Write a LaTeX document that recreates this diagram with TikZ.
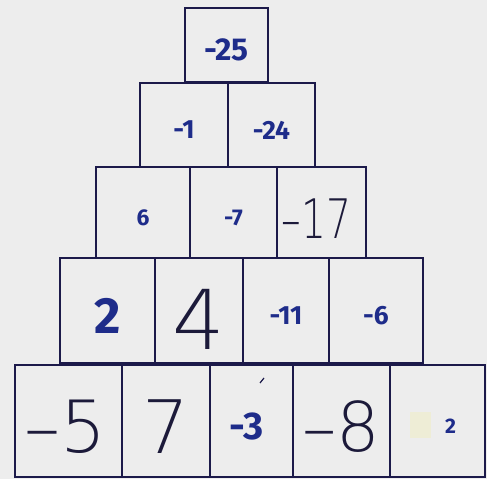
\documentclass[tikz,border=0pt]{standalone}
\usepackage{fontspec}
\usetikzlibrary{fit}
\newfontfamily\markerfont{Fira Sans}
\newfontfamily\penfont{DejaVu Sans ExtraLight}
\newfontfamily\pennarrow{DejaVu Sans ExtraLight}[FakeStretch=0.72]
\definecolor{inkline}{HTML}{1C1A4A}
\definecolor{markerblue}{HTML}{1E2C8A}
\definecolor{penink}{HTML}{1C1A3A}
\definecolor{paper}{HTML}{EDEDED}
\definecolor{tape}{HTML}{EEEDD6}
\tikzset{
  cell/.style={draw=inkline, line width=1.6pt, inner sep=0pt},
  marker/.style={text=markerblue, font=\markerfont\bfseries\fontsize{#1}{#1}\selectfont,
                 inner sep=0pt, yshift=-0.1cm},
  pen/.style={text=penink, font=\penfont\fontsize{#1}{#1}\selectfont,
              inner sep=0pt, yshift=-0.12cm},
  pentight/.style={pen, font=\pennarrow\fontsize{#1}{#1}\selectfont},
}

\begin{document}
\begin{tikzpicture}[x=0.02cm, y=-0.02cm]
    \fill[paper] (0,0) rectangle (487,479);
    \useasboundingbox (0,0) rectangle (487,479);
    % tape patch and stray tick
    \fill[tape] (410,412) rectangle (431,438);
    \draw[inkline, line width=0.7pt] (260,383) -- (264,378);
    % row 1
    \node[cell, fit={(185,8) (268,82)}, label={[marker=18]center:-25}] (c11) {};
    % row 2
    \node[cell, fit={(140,83) (228,167)}, label={[marker=15]center:-1}] (c21) {};
    \node[cell, fit={(228,83) (315,167)}, label={[marker=15]center:-24}] (c22) {};
    % row 3
    \node[cell, fit={(96,167) (190,258)}, label={[marker=13]center:6}] (c31) {};
    \node[cell, fit={(190,167) (277,258)}, label={[marker=13]center:-7}] (c32) {};
    \node[cell, fit={(277,167) (366,258)}, label={[pentight=31, xshift=-0.1cm]center:–\kern0pt 17}] (c33) {};
    % row 4
    \node[cell, fit={(60,258) (155,363)}, label={[marker=29]center:2}] (c41) {};
    \node[cell, fit={(155,258) (243,363)}, label={[pen=47, yshift=-0.06cm]center:4}] (c42) {};
    \node[cell, fit={(243,258) (329,363)}, label={[marker=15]center:-11}] (c43) {};
    \node[cell, fit={(329,258) (423,363)}, label={[marker=15]center:-6}] (c44) {};
    % row 5
    \node[cell, fit={(15,365) (122,477)}, label={[pen=41, xshift=-0.06cm]center:–\kern0pt 5}] (c51) {};
    \node[cell, fit={(122,365) (210,477)}, label={[pen=42]center:7}] (c52) {};
    \node[cell, fit={(210,365) (293,477)}, label={[marker=22, xshift=-0.1cm]center:-3}] (c53) {};
    \node[cell, fit={(293,365) (390,477)}, label={[pen=39]center:–\kern0pt 8}] (c54) {};
    \node[cell, fit={(390,365) (485,477)}, label={[marker=12, xshift=0.26cm]center:2}] (c55) {};
\end{tikzpicture}
\end{document}
